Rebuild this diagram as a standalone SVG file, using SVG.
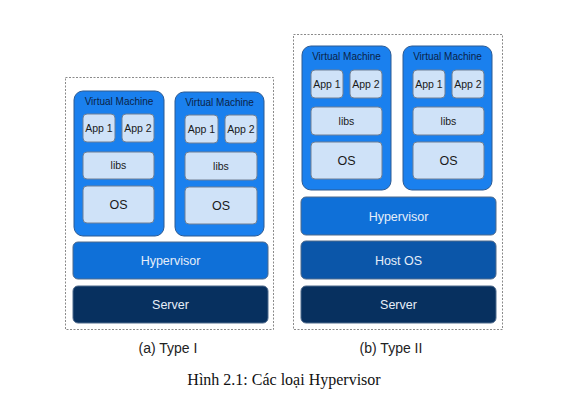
<svg xmlns="http://www.w3.org/2000/svg" width="572" height="400" viewBox="0 0 572 400">
<style>
.frame{fill:#fff;stroke:#8a8a8a;stroke-width:1;stroke-dasharray:2,1.5}
.vm{fill:#1a80ee;stroke:#2d5a92;stroke-width:1}
.box{fill:#cfe2f8;stroke:#6e7f95;stroke-width:1}
.hyp{fill:#0f70d8;stroke:#4f6a8c;stroke-width:1}
.host{fill:#0b56a9;stroke:#4f6a8c;stroke-width:1}
.srv{fill:#07305f;stroke:#4f6a8c;stroke-width:1}
.vmt{font-family:"Liberation Sans",Arial,sans-serif;font-size:10px;fill:#0a2348;text-anchor:middle}
.bt{font-family:"Liberation Sans",Arial,sans-serif;font-size:10.5px;fill:#1a1a1a;text-anchor:middle}
.ost{font-family:"Liberation Sans",Arial,sans-serif;font-size:12.5px;fill:#1a1a1a;text-anchor:middle}
.bar{font-family:"Liberation Sans",Arial,sans-serif;font-size:12.5px;fill:#e6eef8;text-anchor:middle}
.cap{font-family:"Liberation Sans",Arial,sans-serif;font-size:14px;fill:#222;text-anchor:middle}
.fig{font-family:"Liberation Serif","Times New Roman",serif;font-size:16px;fill:#111;text-anchor:middle}
</style>
<rect class="frame" x="65.5" y="77.5" width="208" height="252"/>
<rect class="frame" x="293.5" y="34.5" width="209" height="295"/>
<g id="typeI-vm1">
<rect class="vm" x="74" y="91" width="90" height="145" rx="9"/>
<text class="vmt" x="119" y="104.5">Virtual Machine</text>
<rect class="box" x="83" y="114" width="32" height="28" rx="4"/><text class="bt" x="99" y="131.5">App 1</text>
<rect class="box" x="122" y="114" width="32" height="28" rx="4"/><text class="bt" x="138" y="131.5">App 2</text>
<rect class="box" x="83" y="152" width="71" height="27" rx="4"/><text class="bt" x="118.5" y="169">libs</text>
<rect class="box" x="83" y="186" width="71" height="37" rx="4"/><text class="ost" x="118.5" y="209">OS</text>
</g>
<g id="typeI-vm2">
<rect class="vm" x="175" y="92" width="89" height="144" rx="9"/>
<text class="vmt" x="219.5" y="105.5">Virtual Machine</text>
<rect class="box" x="185" y="115" width="33" height="28" rx="4"/><text class="bt" x="201.5" y="132.5">App 1</text>
<rect class="box" x="225" y="115" width="32" height="28" rx="4"/><text class="bt" x="241" y="132.5">App 2</text>
<rect class="box" x="185" y="152" width="72" height="28" rx="4"/><text class="bt" x="221" y="169.5">libs</text>
<rect class="box" x="185" y="187" width="72" height="37" rx="4"/><text class="ost" x="221" y="210">OS</text>
</g>
<g id="typeI-hypervisor">
<rect class="hyp" x="73" y="242" width="195" height="37" rx="5"/>
<text class="bar" x="170.5" y="265">Hypervisor</text>
</g>
<g id="typeI-server">
<rect class="srv" x="73" y="286" width="195" height="37" rx="5"/>
<text class="bar" x="170.5" y="309">Server</text>
</g>
<g id="typeII-vm1">
<rect class="vm" x="302" y="46" width="89" height="144" rx="9"/>
<text class="vmt" x="346.5" y="59.5">Virtual Machine</text>
<rect class="box" x="311" y="70" width="32" height="28" rx="4"/><text class="bt" x="327" y="87.5">App 1</text>
<rect class="box" x="350" y="70" width="32" height="28" rx="4"/><text class="bt" x="366" y="87.5">App 2</text>
<rect class="box" x="311" y="107" width="71" height="28" rx="4"/><text class="bt" x="346.5" y="124.5">libs</text>
<rect class="box" x="311" y="142" width="71" height="37" rx="4"/><text class="ost" x="346.5" y="165">OS</text>
</g>
<g id="typeII-vm2">
<rect class="vm" x="403" y="46" width="89" height="144" rx="9"/>
<text class="vmt" x="447.5" y="59.5">Virtual Machine</text>
<rect class="box" x="413" y="70" width="32" height="28" rx="4"/><text class="bt" x="429" y="87.5">App 1</text>
<rect class="box" x="452" y="70" width="32" height="28" rx="4"/><text class="bt" x="468" y="87.5">App 2</text>
<rect class="box" x="413" y="107" width="71" height="28" rx="4"/><text class="bt" x="448.5" y="124.5">libs</text>
<rect class="box" x="413" y="142" width="71" height="37" rx="4"/><text class="ost" x="448.5" y="165">OS</text>
</g>
<g id="typeII-hypervisor">
<rect class="hyp" x="301" y="197" width="195" height="38" rx="5"/>
<text class="bar" x="398.5" y="220.5">Hypervisor</text>
</g>
<g id="typeII-hostos">
<rect class="host" x="301" y="241" width="195" height="38" rx="5"/>
<text class="bar" x="398.5" y="264.5">Host OS</text>
</g>
<g id="typeII-server">
<rect class="srv" x="301" y="286" width="195" height="37" rx="5"/>
<text class="bar" x="398.5" y="309">Server</text>
</g>
<g id="connectors"></g>
<text class="cap" x="168" y="353">(a) Type I</text>
<text class="cap" x="391" y="353">(b) Type II</text>
<text class="fig" x="284" y="385">Hình 2.1: Các loại Hypervisor</text>
</svg>
